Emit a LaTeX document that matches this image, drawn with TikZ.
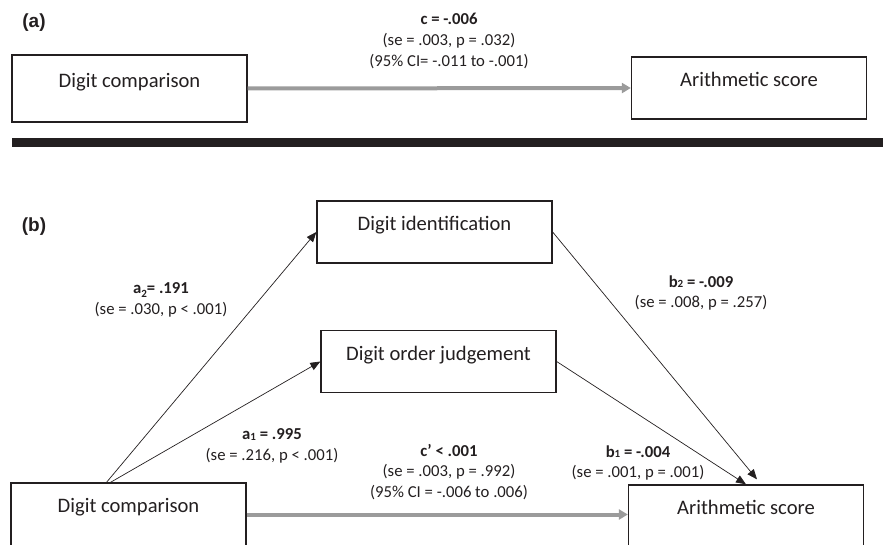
\documentclass[tikz,border=0pt]{standalone}
\usepackage{fontspec}
\setmainfont{Carlito}
\newfontfamily\panelfont{Liberation Sans}
\usetikzlibrary{arrows.meta}
\definecolor{ink}{HTML}{231F20}
\definecolor{pathgrey}{HTML}{9B9B9B}
\newcommand{\sdig}[1]{\raisebox{-0.5pt}{\fontsize{11}{11}\selectfont #1}}
\newcommand{\ldig}[1]{\raisebox{-4pt}{\fontsize{11}{11}\selectfont #1}}

\begin{document}
\begin{tikzpicture}
	[x=1pt,y=-1pt,
	 box/.style={draw=ink,line width=1.3pt,minimum width=235pt,inner sep=0pt,text height=30pt,text depth=32pt,text=ink,font=\fontsize{20.6}{24}\selectfont},
	 lab/.style={align=center,text=ink,inner sep=0pt,font=\fontsize{16.7}{20.8}\selectfont},
	 panel/.style={text=ink,inner sep=0pt,font=\panelfont\bfseries\fontsize{19}{22}\selectfont},
	 direct/.style={draw=pathgrey,line width=4pt,-{Triangle[length=9pt,width=10pt]}},
	 link/.style={draw=ink,line width=0.7pt,-{Triangle[length=10pt,width=8pt]}}]
    \useasboundingbox (0,0) rectangle (883,545);
    \clip (0,0) rectangle (883,545);
    % (a) total effect
    \node[panel] (pa) at (34,23) {(a)};
    \node[box,text height=33pt,text depth=34pt] (dca) at (129.5,88.5) {Digit comparison};
    \node[box] (asa) at (749,88) {Arithmetic score};
    \node[lab] (ca) at (449,41) {\textbf{c = -.006}\\(se = .003, p = .032)\\(95\% CI= -.011 to -.001)};
    \draw[direct] (dca.east) -- (asa.west);
    \fill[ink] (12,138) rectangle (883,147);
    % (b) mediation
    \node[panel] (pb) at (34,227) {(b)};
    \node[box] (di) at (434.5,232) {Digit identification};
    \node[box] (doj) at (438.5,361.5) {Digit order judgement};
    \node[box,text height=29pt,text depth=40pt] (dcb) at (128.5,517.5) {Digit comparison};
    \node[box,text height=29pt,text depth=40pt] (asb) at (746,519.5) {Arithmetic score};
    \node[lab] (la2) at (161,300) {\textbf{a\ldig{2}= .191}\\(se = .030, p < .001)};
    \node[lab] (lb2) at (701,293) {\textbf{b\sdig{2} = -.009}\\(se = .008, p = .257)};
    \node[lab] (la1) at (272,446) {\textbf{a\sdig{1} = .995}\\(se = .216, p < .001)};
    \node[lab] (lc) at (449,472) {\textbf{c’ < .001}\\(se = .003, p = .992)\\(95\% CI = -.006 to .006)};
    \node[lab] (lb1) at (638,463) {\textbf{b\sdig{1} = -.004}\\(se = .001, p = .001)};
    \draw[link] ([xshift=-22pt]dcb.north) -- (di.west);
    \draw[link] ([xshift=-18pt]dcb.north) -- (doj.west);
    \draw[link] (di.east) -- ([xshift=11pt,yshift=5pt]asb.north);
    \draw[link] (doj.east) -- (asb.north);
    \draw[direct] ([yshift=3pt]dcb.east) -- ([yshift=3pt]dcb.east -| asb.west);
\end{tikzpicture}
\end{document}
